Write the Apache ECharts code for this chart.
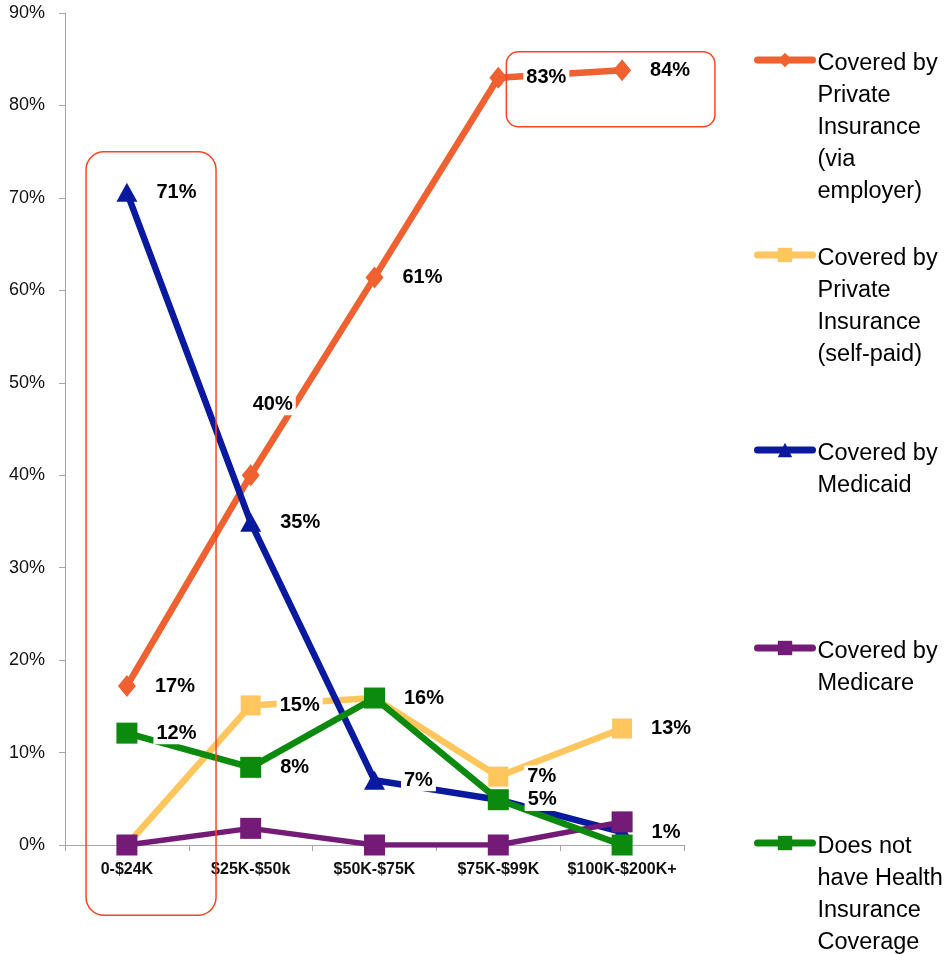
<!DOCTYPE html>
<html><head><meta charset="utf-8">
<script src="https://cdn.jsdelivr.net/npm/echarts@6/dist/echarts.min.js"></script>
<style>html,body{margin:0;padding:0;background:#fff}#c{width:948px;height:954px}</style>
</head><body><div id="c"></div>
<script>
const categories = ['0-$24K', '$25K-$50k', '$50K-$75K', '$75K-$99K', '$100K-$200K+'];
const seriesNames = [
  'Covered by Private Insurance (via employer)',
  'Covered by Private Insurance (self-paid)',
  'Covered by Medicaid',
  'Covered by Medicare',
  'Does not have Health Insurance Coverage'
];
const legendLines = [
  ['Covered by', 'Private', 'Insurance', '(via', 'employer)'],
  ['Covered by', 'Private', 'Insurance', '(self-paid)'],
  ['Covered by', 'Medicaid'],
  ['Covered by', 'Medicare'],
  ['Does not', 'have Health', 'Insurance', 'Coverage']
];
const employer = [17.2, 40.0, 61.4, 83.0, 83.8];
const selfPaid = [0, 15.1, 15.9, 7.4, 12.6];
const medicaid = [70.6, 34.9, 7.0, 4.9, 1.4];
const medicare = [0, 1.8, 0, 0, 2.5];
const uninsured = [12.1, 8.4, 15.9, 4.9, 0];

const FONT = 'Liberation Sans';
const chart = echarts.init(document.getElementById('c'), null, {renderer: 'canvas'});

function mk(i, data, color, symbol, symbolSize, width, showLabels, overrides) {
  return {
    name: seriesNames[i], type: 'line', data: data.map((v, k) => {
      const item = {value: v, label: {show: showLabels && Math.round(v) !== 0}};
      if (overrides && overrides[k]) Object.assign(item.label, overrides[k]);
      return item;
    }),
    symbol: symbol, symbolSize: symbolSize,
    lineStyle: {color: color, width: width, cap: 'round'},
    itemStyle: {color: color},
    label: {
      position: 'right', distance: 16,
      formatter: p => Math.round(p.value) + '%',
      fontFamily: FONT, fontWeight: 'bold', fontSize: 20, color: '#000',
      backgroundColor: '#fff', padding: [1, 3]
    },
    emphasis: {disabled: true},
    animation: false
  };
}

const iconY = [60, 255, 450, 648, 843];
const LH = 32;
const TEXT_DROP = 4; // text sits slightly below icon

const option = {
  animation: false,
  grid: {left: 65, right: 264, top: 13, bottom: 109, containLabel: false, outerBoundsMode: 'none'},
  xAxis: {
    type: 'category', data: categories, boundaryGap: true,
    axisLine: {lineStyle: {color: '#a6a6a6', width: 1}},
    axisTick: {show: true, length: 6, lineStyle: {color: '#a6a6a6'}},
    axisLabel: {fontFamily: FONT, fontWeight: 'bold', fontSize: 16, color: '#111', margin: 17, interval: 0}
  },
  yAxis: {
    type: 'value', min: 0, max: 90, interval: 10,
    axisLine: {show: true, lineStyle: {color: '#a6a6a6', width: 1}},
    axisTick: {show: true, length: 6, lineStyle: {color: '#a6a6a6'}},
    splitLine: {show: false},
    axisLabel: {formatter: '{value}%', fontFamily: FONT, fontSize: 18, color: '#111', margin: 20}
  },
  legend: legendLines.map((lines, i) => {
    const n = lines.length;
    const hb = LH + 2 * TEXT_DROP / (n - 1);
    const total = (n - 1) * hb + n * LH;
    return {
      data: [seriesNames[i]], orient: 'vertical', left: 754,
      top: iconY[i] - total / 2,
      padding: 0, itemWidth: 55, itemHeight: 18, itemGap: 0, selectedMode: false,
      lineStyle: {width: 7, cap: 'round'},
      formatter: () => lines.map(() => '{b| }').slice(1).concat(lines.map(l => '{t|' + l + '}')).join('\n'),
      textStyle: {
        fontFamily: FONT, fontSize: 23, lineHeight: LH, color: '#000',
        rich: {
          b: {fontSize: 8, lineHeight: hb},
          t: {fontFamily: FONT, fontSize: 23.5, lineHeight: LH, color: '#000'}
        }
      }
    };
  }),
  series: [
    mk(0, employer, '#ef6130', 'diamond', [18, 22], 6.5, true, {1: {position: 'top', offset: [22, -33]}}),
    mk(1, selfPaid, '#fec65c', 'rect', 20, 6.5, true),
    mk(2, medicaid, '#0a1a9e', 'triangle', [21, 19], 6.5, true),
    mk(3, medicare, '#731b77', 'rect', 21, 5.5, false),
    mk(4, uninsured, '#0b8a0d', 'rect', 21, 6.5, true)
  ]
};
chart.setOption(option);

// Annotation frames placed via the axes
const px = (c, v) => chart.convertToPixel({xAxisIndex: 0, yAxisIndex: 0}, [c, v]);
const bw = px(1, 0)[0] - px(0, 0)[0];
const a1 = px(0, 75), b1 = px(0, -7.6);
const a2 = px(3, 85.8), b2 = px(4, 77.7);
chart.setOption({
  graphic: [
    {type: 'rect', z: 100, silent: true,
     shape: {x: a1[0] - 0.33 * bw, y: a1[1], width: 1.05 * bw, height: b1[1] - a1[1], r: 18},
     style: {fill: 'none', stroke: '#ff4420', lineWidth: 1.5}},
    {type: 'rect', z: 100, silent: true,
     shape: {x: a2[0] + 0.065 * bw, y: a2[1], width: (b2[0] + 0.75 * bw) - (a2[0] + 0.065 * bw), height: b2[1] - a2[1], r: 12},
     style: {fill: 'none', stroke: '#ff4420', lineWidth: 1.5}}
  ]
});
</script>
</body></html>
